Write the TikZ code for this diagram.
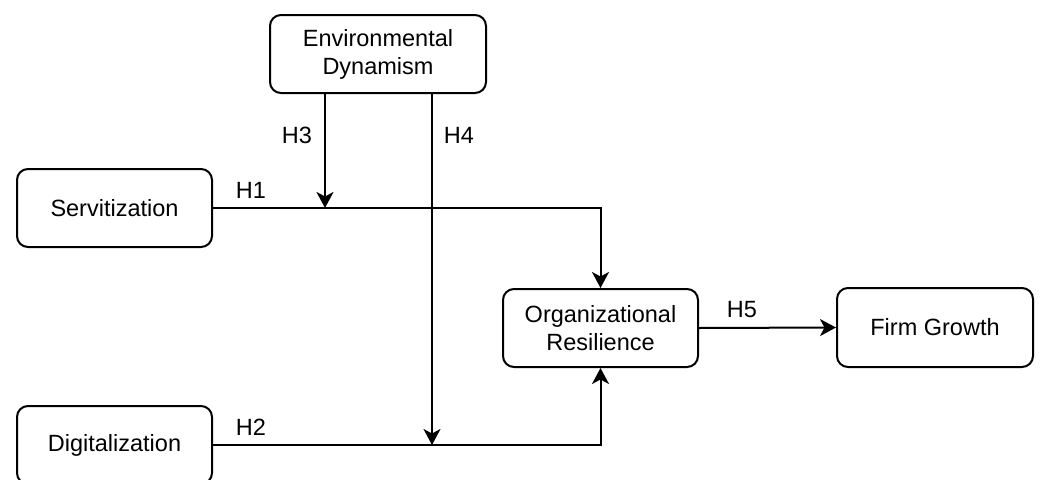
\documentclass[tikz,border=0pt]{standalone}
\usepackage{fontspec}
\setmainfont{Liberation Sans}
\usetikzlibrary{arrows.meta}
\begin{document}
\begin{tikzpicture}[x=1pt,y=-1pt,
  box/.style={draw,line width=2pt,rounded corners=11pt,align=center,
    font=\fontsize{23.5}{28}\selectfont,inner sep=0pt},
  lbl/.style={font=\fontsize{23.5}{28}\selectfont,inner sep=0pt},
  conn/.style={line width=2pt,-{Stealth[length=16pt,width=17pt,inset=4.5pt]}}]
\useasboundingbox (0,0) rectangle (1040,479);
\clip (0,0) rectangle (1040,479);
\node[box,minimum width=216pt,minimum height=78pt] (env) at (378,54) {Environmental\\Dynamism};
\node[box,minimum width=195pt,minimum height=78pt] (serv) at (114.5,208) {Servitization};
\node[box,minimum width=195pt,minimum height=78pt] (dig) at (114.5,445) {Digitalization};
\node[box,minimum width=195pt,minimum height=78pt] (org) at (600.5,328) {Organizational\\Resilience};
\node[box,minimum width=196pt,minimum height=79pt] (fg) at (935,327.5) {Firm Growth};
\coordinate (j1) at (325,208);
\coordinate (j2) at (432,445);
\draw[line width=2pt] (serv.east) -- (j1);
\draw[line width=2pt] (dig.east) -- (j2);
\draw[conn] (j1) -| (org.north);
\draw[conn] (j2) -| (org.south);
\draw[conn] (env.south -| j1) -- (j1);
\draw[conn] (env.south -| j2) -- (j2);
\draw[conn] (org.east) -- (fg.west);
\node[lbl] (h1) at (251,190) {H1};
\node[lbl] (h2) at (251,427) {H2};
\node[lbl] (h3) at (297,135) {H3};
\node[lbl] (h4) at (459,135) {H4};
\node[lbl] (h5) at (742,310) {H5};
\end{tikzpicture}
\end{document}
